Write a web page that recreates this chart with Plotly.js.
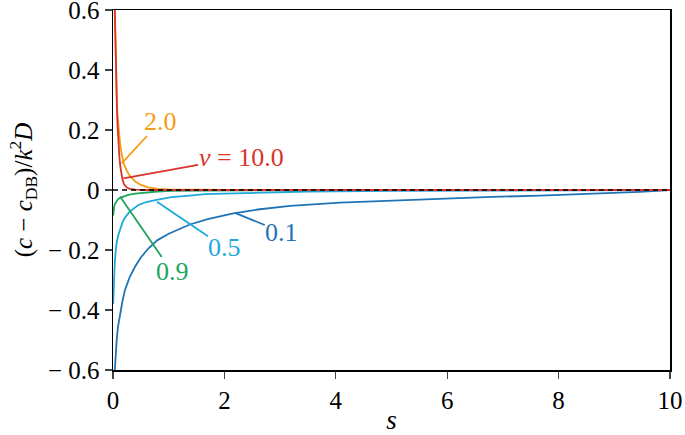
<!DOCTYPE html>
<html>
<head>
<meta charset="utf-8">
<script src="https://cdn.plot.ly/plotly-3.0.1.min.js"></script>
<style>html,body{margin:0;padding:0;background:#fff;}#chart{width:685px;height:435px;}</style>
</head>
<body>
<div id="chart"></div>
<script>
// v = 10.0
const s_v10 = [0.033,0.04,0.05,0.06,0.07,0.08,0.09,0.1,0.115,0.13,0.15,0.17,0.2,0.25,0.3,0.4,0.6,1,2,4,6,8,10];
const y_v10 = [0.6,0.52,0.43,0.35,0.28,0.22,0.18,0.15,0.11,0.08,0.055,0.035,0.018,0.008,0.004,0.001,0,0,0,0,0,0,0];
// v = 2.0
const s_v2 = [0.03,0.04,0.05,0.06,0.07,0.08,0.1,0.125,0.155,0.19,0.245,0.3,0.4,0.5,0.63,0.8,1,1.3,2,4,10];
const y_v2 = [0.6,0.5,0.41,0.34,0.29,0.25,0.2,0.16,0.12,0.09,0.065,0.048,0.028,0.017,0.009,0.004,0.002,0.001,0,0,0];
// v = 0.9
const s_v09 = [0.004,0.01,0.02,0.036,0.06,0.09,0.126,0.2,0.275,0.4,0.575,0.8,1.05,1.5,2.5,4,10];
const y_v09 = [-0.085,-0.068,-0.056,-0.046,-0.038,-0.031,-0.026,-0.02,-0.016,-0.012,-0.008,-0.005,-0.003,-0.002,-0.001,0,0];
// v = 0.5
const s_v05 = [0.004,0.015,0.03,0.05,0.066,0.096,0.126,0.17,0.215,0.3,0.455,0.6,0.78,1.05,1.38,1.65,2,2.58,3.5,5,7,10];
const y_v05 = [-0.38,-0.31,-0.25,-0.2,-0.175,-0.15,-0.13,-0.108,-0.092,-0.072,-0.05,-0.04,-0.033,-0.024,-0.019,-0.014,-0.012,-0.009,-0.005,-0.003,-0.001,0];
// v = 0.1
const s_v01 = [0.033,0.045,0.066,0.09,0.126,0.17,0.215,0.3,0.395,0.5,0.634,0.8,1.0,1.17,1.38,1.7,2.16,2.6,3.18,4.08,5,5.87,6.8,7.67,8.6,9.46,10];
const y_v01 = [-0.6,-0.555,-0.5,-0.455,-0.411,-0.37,-0.333,-0.29,-0.256,-0.225,-0.195,-0.167,-0.146,-0.133,-0.115,-0.097,-0.078,-0.065,-0.053,-0.042,-0.035,-0.028,-0.023,-0.019,-0.013,-0.006,0];
// zero reference
const s_zero = [0,10];
const y_zero = [0,0];

const yTickVals = [0.6,0.4,0.2,0,-0.2,-0.4,-0.6];
const yTickText = ["0.6","0.4","0.2","0","\u2212 0.2","\u2212 0.4","\u2212 0.6"];
const xTickVals = [0,2,4,6,8,10];
const xTickText = ["0","2","4","6","8","10"];

const labels = ["<i>v</i> = 10.0","2.0","0.9","0.5","0.1"];
const colors = ["#d9342b","#f59c12","#1ea55e","#1ea8dc","#1f74b6"];

const FONT = "Liberation Serif";
const lw = 1.8;
const traces = [
  {x:s_v01,y:y_v01,color:colors[4]},
  {x:s_v05,y:y_v05,color:colors[3]},
  {x:s_v09,y:y_v09,color:colors[2]},
  {x:s_v2,y:y_v2,color:colors[1]},
  {x:s_v10,y:y_v10,color:colors[0]}
].map(t => ({x:t.x,y:t.y,type:'scatter',mode:'lines',line:{color:t.color,width:lw},hoverinfo:'skip'}));
traces.push({x:s_zero,y:y_zero,type:'scatter',mode:'lines',line:{color:'#000',width:1.6,dash:'5px,4px'},hoverinfo:'skip'});

const annPts = [
  {text:labels[0], x:0.185, y:0.039, ax:2.30, ay:0.11, c:colors[0]},
  {text:labels[1], x:0.156, y:0.089, ax:0.86, ay:0.23, c:colors[1]},
  {text:labels[2], x:0.126, y:-0.022, ax:1.06, ay:-0.273, c:colors[2]},
  {text:labels[3], x:0.79, y:-0.039, ax:2.01, ay:-0.193, c:colors[3]},
  {text:labels[4], x:2.19, y:-0.076, ax:3.03, ay:-0.14, c:colors[4]}
];
const annotations = annPts.map(a => ({
  x:a.x, y:a.y, ax:a.ax, ay:a.ay, xref:'x', yref:'y', axref:'x', ayref:'y',
  text:a.text, showarrow:true, arrowhead:0, arrowwidth:lw, arrowcolor:a.c,
  font:{family:FONT,size:26,color:a.c}, borderpad:0
}));

const layout = {
  width:685, height:435,
  margin:{l:113,r:15,t:10,b:65},
  paper_bgcolor:'#fff', plot_bgcolor:'#fff',
  showlegend:false,
  font:{family:FONT,size:25,color:'#000'},
  xaxis:{range:[0,10], tickvals:xTickVals, ticktext:xTickText, ticks:'outside', ticklen:7, tickwidth:1.3,
    showgrid:false, zeroline:false, showline:true, mirror:true, linecolor:'#000', linewidth:1.5,
    ticklabeloverflow:'allow',
    tickfont:{family:FONT,size:25,color:'#000'},
    title:{text:'<i>s</i>', font:{family:FONT,size:27,color:'#000'}, standoff:8}},
  yaxis:{range:[-0.6,0.6], tickvals:yTickVals, ticktext:yTickText, ticks:'outside', ticklen:7, tickwidth:1.3,
    showgrid:false, zeroline:false, showline:true, mirror:true, linecolor:'#000', linewidth:1.5,
    ticklabeloverflow:'allow',
    tickfont:{family:FONT,size:25,color:'#000'},
    title:{text:'(<i>c</i> \u2212 <i>c</i><sub>DB</sub>)/<i>k</i><sup>2</sup><i>D</i>', font:{family:FONT,size:25,color:'#000'}, standoff:8}},
  annotations:annotations
};
Plotly.newPlot('chart', traces, layout, {staticPlot:true, displayModeBar:false});
</script>
</body>
</html>
